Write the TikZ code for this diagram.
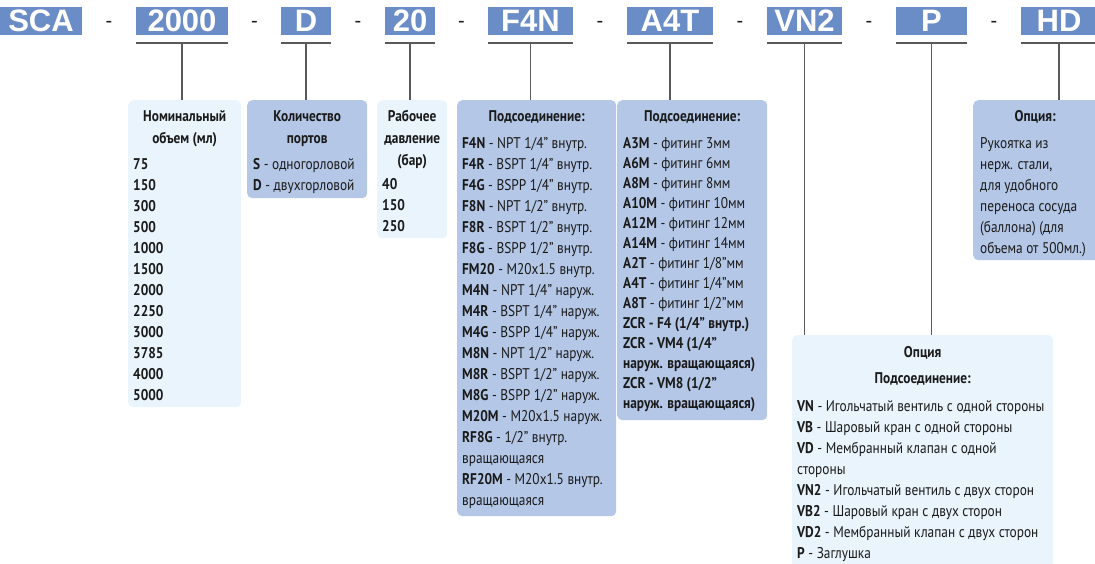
\documentclass[tikz,border=0pt]{standalone}
\usepackage{fontspec}
\setmainfont{PT Sans}[FakeStretch=0.86]
\newfontfamily\hdrfont{Liberation Sans}
\usetikzlibrary{positioning}

\definecolor{hdrblue}{HTML}{6A8CC7}
\definecolor{midblue}{HTML}{B4C7E7}
\definecolor{paleblue}{HTML}{E9F4FC}
\definecolor{linegray}{HTML}{5A5A5A}
\definecolor{ink}{HTML}{1A1A1A}

\tikzset{
	hdr/.style={fill=hdrblue, text=white, font=\hdrfont\bfseries\fontsize{31}{31}\selectfont, minimum height=28pt, inner sep=0pt},
	sep/.style={font=\hdrfont\fontsize{20}{20}\selectfont, text=ink, yshift=-3pt},
	midbox/.style={fill=midblue, rounded corners=5pt, anchor=north west, inner sep=0pt},
	palebox/.style={fill=paleblue, rounded corners=5pt, anchor=north west, inner sep=0pt},
	ttl/.style={font=\bfseries\fontsize{15.5}{22}\selectfont, align=center, inner sep=0pt, text=ink},
	lst/.style={font=\fontsize{15.5}{21}\selectfont, align=left, inner sep=0pt, text=ink},
	bar/.style={draw=linegray, line width=2pt},
	lnk/.style={draw=linegray, line width=1.3pt}
}

\begin{document}
\begin{tikzpicture}[x=1pt,y=1pt]
	\useasboundingbox (0,0) rectangle (1095,-564);
	\node[hdr, minimum width=82pt] (h-sca) at (41,-21) {SCA};
	\node[hdr, minimum width=92pt] (h-vol) at (182,-21) {2000};
	\node[hdr, minimum width=50pt] (h-port) at (306,-21) {D};
	\node[hdr, minimum width=50pt] (h-pres) at (410,-21) {20};
	\node[hdr, minimum width=85pt] (h-conn) at (530.5,-21) {F4N};
	\node[hdr, minimum width=86pt] (h-fit) at (670,-21) {A4T};
	\node[hdr, minimum width=75pt] (h-valve) at (804.5,-21) {VN2};
	\node[hdr, minimum width=71pt] (h-plug) at (931.5,-21) {P};
	\node[hdr, minimum width=76pt] (h-handle) at (1059,-21) {HD};
	\foreach \a/\z in {h-sca/h-vol,h-vol/h-port,h-port/h-pres,h-pres/h-conn,h-conn/h-fit,h-fit/h-valve,h-valve/h-plug,h-plug/h-handle}
		\path (\a.east) -- node[sep] {-} (\z.west);

	\node[palebox, minimum width=113pt, minimum height=307pt] (b-vol) at (128,-100) {};
	\node[midbox, minimum width=120pt, minimum height=98pt] (b-port) at (247,-100) {};
	\node[palebox, minimum width=70pt, minimum height=138pt] (b-pres) at (377,-100) {};
	\node[midbox, minimum width=159pt, minimum height=416pt] (b-conn) at (457,-100) {};
	\node[midbox, minimum width=150pt, minimum height=320pt] (b-fit) at (617,-100) {};
	\node[midbox, minimum width=130pt, minimum height=160pt] (b-handle) at (973,-100) {};
	\node[palebox, minimum width=261pt, minimum height=240pt] (b-valve) at (792,-335) {};

	\node[ttl, below=10pt of b-vol.north] (t-vol) {Номинальный\\объем (мл)};
	\node[ttl, below=10pt of b-port.north] (t-port) {Количество\\портов};
	\node[ttl, below=10pt of b-pres.north] (t-pres) {Рабочее\\давление\\(бар)};
	\node[ttl, below=10pt of b-conn.north] (t-conn) {Подсоединение:};
	\node[ttl, below=10pt of b-fit.north] (t-fit) {Подсоединение:};
	\node[ttl, below=10pt of b-handle.north, xshift=-3pt] (t-handle) {Опция:};
	\node[ttl, below=11pt of b-valve.north] (t-valve) {Опция\\[4pt]Подсоединение:};

	\node[lst, font=\bfseries\fontsize{15.5}{21}\selectfont, below right=58pt and 5pt of b-vol.north west] (l-vol)
		{75\\150\\300\\500\\1000\\1500\\2000\\2250\\3000\\3785\\4000\\5000};
	\node[lst, below right=58pt and 6pt of b-port.north west] (l-port)
		{\textbf{S} - одногорловой\\\textbf{D} - двухгорловой};
	\node[lst, font=\bfseries\fontsize{15.5}{21}\selectfont, below right=78pt and 5pt of b-pres.north west] (l-pres)
		{40\\150\\250};
	\node[lst, below right=37pt and 5pt of b-conn.north west] (l-conn)
		{\textbf{F4N} - NPT 1/4” внутр.\\
		\textbf{F4R} - BSPT 1/4” внутр.\\
		\textbf{F4G} - BSPP 1/4” внутр.\\
		\textbf{F8N} - NPT 1/2” внутр.\\
		\textbf{F8R} - BSPT 1/2” внутр.\\
		\textbf{F8G} - BSPP 1/2” внутр.\\
		\textbf{FM20} - M20x1.5 внутр.\\
		\textbf{M4N} - NPT 1/4” наруж.\\
		\textbf{M4R} - BSPT 1/4” наруж.\\
		\textbf{M4G} - BSPP 1/4” наруж.\\
		\textbf{M8N} - NPT 1/2” наруж.\\
		\textbf{M8R} - BSPT 1/2” наруж.\\
		\textbf{M8G} - BSPP 1/2” наруж.\\
		\textbf{M20M} - M20x1.5 наруж.\\
		\textbf{RF8G} - 1/2” внутр.\\
		вращающаяся\\
		\textbf{RF20M} - M20x1.5 внутр.\\
		вращающаяся};
	\node[lst, font=\fontsize{15.5}{20}\selectfont, below right=37pt and 6pt of b-fit.north west] (l-fit)
		{\textbf{A3M} - фитинг 3мм\\
		\textbf{A6M} - фитинг 6мм\\
		\textbf{A8M} - фитинг 8мм\\
		\textbf{A10M} - фитинг 10мм\\
		\textbf{A12M} - фитинг 12мм\\
		\textbf{A14M} - фитинг 14мм\\
		\textbf{A2T} - фитинг 1/8”мм\\
		\textbf{A4T} - фитинг 1/4”мм\\
		\textbf{A8T} - фитинг 1/2”мм\\
		\textbf{ZCR - F4 (1/4” внутр.)}\\
		\textbf{ZCR - VM4 (1/4”}\\
		\textbf{наруж. вращающаяся)}\\
		\textbf{ZCR - VM8 (1/2”}\\
		\textbf{наруж. вращающаяся)}};
	\node[lst, below right=37pt and 7pt of b-handle.north west] (l-handle)
		{Рукоятка из\\нерж. стали,\\для удобного\\переноса сосуда\\(баллона) (для\\объема от 500мл.)};
	\node[lst, below right=65pt and 5pt of b-valve.north west] (l-valve)
		{\textbf{VN} - Игольчатый вентиль с одной стороны\\
		\textbf{VB} - Шаровый кран с одной стороны\\
		\textbf{VD} - Мембранный клапан с одной\\
		стороны\\
		\textbf{VN2} - Игольчатый вентиль с двух сторон\\
		\textbf{VB2} - Шаровый кран с двух сторон\\
		\textbf{VD2} - Мембранный клапан с двух сторон\\
		\textbf{P} - Заглушка};

	\foreach \hd/\bx in {h-vol/b-vol,h-port/b-port,h-pres/b-pres,h-conn/b-conn,h-fit/b-fit,h-valve/b-valve,h-plug/b-valve,h-handle/b-handle}
	{
		\draw[bar] ([yshift=-8pt]\hd.south west) -- ([yshift=-8pt]\hd.south east);
		\draw[lnk] ([yshift=-8pt]\hd.south) -- (\hd.south |- \bx.north);
	}
\end{tikzpicture}
\end{document}
